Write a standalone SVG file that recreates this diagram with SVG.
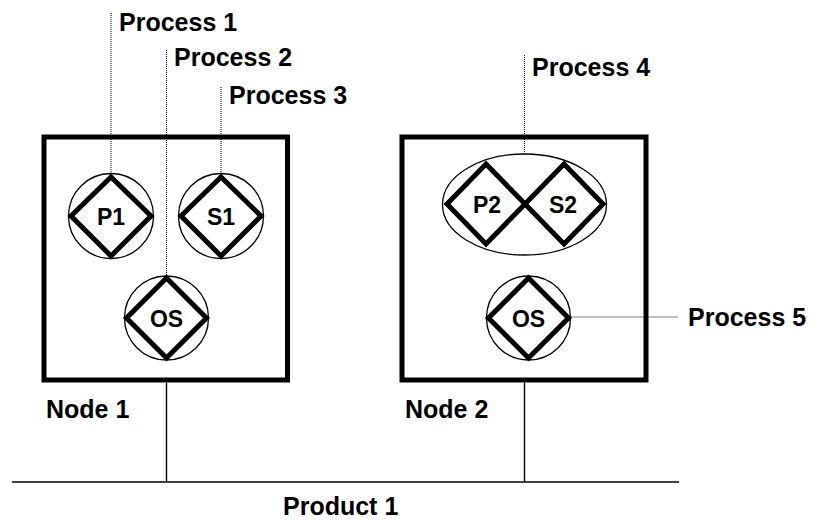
<svg xmlns="http://www.w3.org/2000/svg" width="814" height="521" viewBox="0 0 814 521">
<style>
.box{fill:none;stroke:#000;stroke-width:5}
.ring{fill:none;stroke:#000;stroke-width:1.3}
.dia{fill:none;stroke:#000;stroke-width:5;stroke-linejoin:miter}
.dot{fill:none;stroke:#000;stroke-width:1;stroke-dasharray:1,1}
.solid{fill:none;stroke:#000;stroke-width:1.4}
.lbl{font-family:"Liberation Sans",Arial,sans-serif;font-weight:bold;font-size:25px;fill:#000}
.in{font-family:"Liberation Sans",Arial,sans-serif;font-weight:bold;font-size:23px;fill:#000;text-anchor:middle}
</style>
<rect width="814" height="521" fill="#fff"/>
<g id="connectors">
<line class="dot" x1="111" y1="13" x2="111" y2="174"/>
<line class="dot" x1="166.5" y1="50" x2="166.5" y2="276"/>
<line class="dot" x1="221" y1="87" x2="221" y2="174"/>
<line class="dot" x1="524.5" y1="55" x2="524.5" y2="154"/>
<line class="dot" x1="570.5" y1="317" x2="678" y2="317"/>
<line class="solid" x1="166.5" y1="382.5" x2="166.5" y2="482"/>
<line class="solid" x1="524.5" y1="382.5" x2="524.5" y2="482"/>
<line class="solid" x1="12" y1="482" x2="679" y2="482"/>
</g>
<g id="node1">
<rect class="box" x="44" y="137" width="243.5" height="243"/>
<text class="lbl" x="46" y="418">Node 1</text>
</g>
<g id="node2">
<rect class="box" x="402" y="137" width="244" height="243"/>
<text class="lbl" x="405" y="418">Node 2</text>
</g>
<g id="p1">
<circle class="ring" cx="111" cy="216" r="42.5"/>
<polygon class="dia" points="111,177 151,216 111,256 71,216"/>
<text class="in" x="111" y="225">P1</text>
</g>
<g id="s1">
<circle class="ring" cx="221" cy="216" r="42.5"/>
<polygon class="dia" points="221,177 261,216 221,256 181,216"/>
<text class="in" x="221" y="225">S1</text>
</g>
<g id="os1">
<circle class="ring" cx="166.5" cy="318" r="42"/>
<polygon class="dia" points="166.5,278 206.5,318 166.5,358 126.5,318"/>
<text class="in" x="166.5" y="327">OS</text>
</g>
<g id="p2s2">
<ellipse class="ring" cx="524.5" cy="204.5" rx="82" ry="50.5"/>
<polygon class="dia" points="486,164 525,204 486,244 447,204"/>
<polygon class="dia" points="564,164 603,204 564,244 525,204"/>
<text class="in" x="487" y="213">P2</text>
<text class="in" x="563" y="213">S2</text>
</g>
<g id="os2">
<circle class="ring" cx="528.5" cy="318" r="42"/>
<polygon class="dia" points="528.5,278 568.5,318 528.5,358 488.5,318"/>
<text class="in" x="528.5" y="327">OS</text>
</g>
<g id="labels">
<text class="lbl" x="119" y="31">Process 1</text>
<text class="lbl" x="174" y="66">Process 2</text>
<text class="lbl" x="229" y="104">Process 3</text>
<text class="lbl" x="532" y="76">Process 4</text>
<text class="lbl" x="688" y="326">Process 5</text>
<text class="lbl" x="283" y="515">Product 1</text>
</g>
</svg>
